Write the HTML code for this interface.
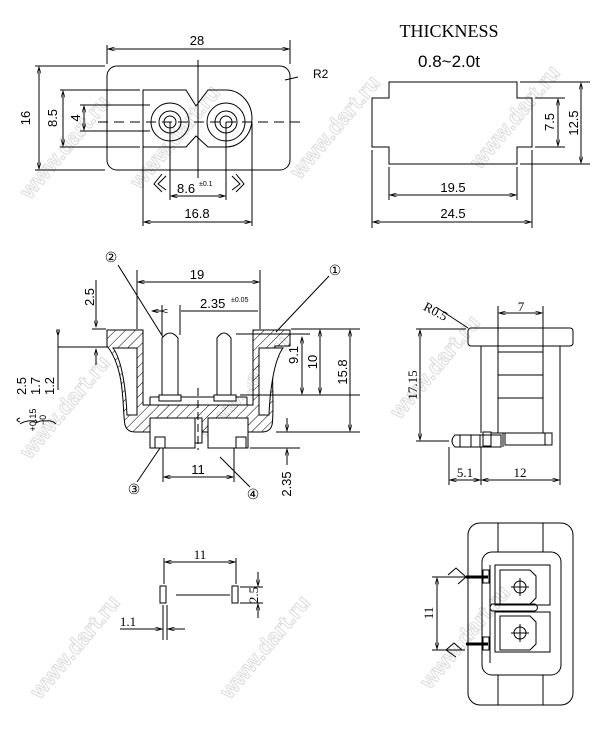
<!DOCTYPE html>
<html><head><meta charset="utf-8"><style>
html,body{margin:0;padding:0;background:#fff;}
svg{display:block}
text{font-family:"Liberation Sans",sans-serif;fill:#000}
.s{font-family:"Liberation Serif",serif}
.wm{font-family:"Liberation Sans",sans-serif;font-size:22px;font-weight:bold;fill:none;stroke:#dcdcdc;stroke-width:1}
</style></head><body>
<svg width="606" height="729" viewBox="0 0 606 729" xmlns="http://www.w3.org/2000/svg">
<defs>
<marker id="a" viewBox="0 0 10 6" refX="10" refY="3" markerWidth="8" markerHeight="4" orient="auto-start-reverse"><path d="M0,0 L10,3 L0,6" fill="none" stroke="#000" stroke-width="1"/></marker>
<pattern id="h" patternUnits="userSpaceOnUse" width="7" height="7" patternTransform="rotate(45)"><line x1="0" y1="0" x2="0" y2="7" stroke="#000" stroke-width="1"/></pattern>
</defs>
<rect width="606" height="729" fill="#fff"/>
<g>
<text class="wm" transform="translate(30,200) rotate(-50)">www.dart.ru</text>
<text class="wm" transform="translate(140,190) rotate(-50)">www.dart.ru</text>
<text class="wm" transform="translate(300,180) rotate(-50)">www.dart.ru</text>
<text class="wm" transform="translate(480,170) rotate(-50)">www.dart.ru</text>
<text class="wm" transform="translate(30,460) rotate(-50)">www.dart.ru</text>
<text class="wm" transform="translate(210,440) rotate(-50)">www.dart.ru</text>
<text class="wm" transform="translate(400,420) rotate(-50)">www.dart.ru</text>
<text class="wm" transform="translate(40,700) rotate(-50)">www.dart.ru</text>
<text class="wm" transform="translate(230,700) rotate(-50)">www.dart.ru</text>
<text class="wm" transform="translate(430,690) rotate(-50)">www.dart.ru</text>
</g>
<g fill="none" stroke="#000" stroke-width="1">
<!-- TOP LEFT -->
<rect x="107" y="66" width="183" height="104" rx="10"/>
<path d="M143,90 H186 L196,106 L208,90 H226 A26,28.5 0 0 1 226,147 H208 L196,136 L186,147 H143 Z"/>
<circle cx="170" cy="122" r="19"/><circle cx="170" cy="122" r="11"/><circle cx="170" cy="122" r="6"/>
<circle cx="226" cy="122" r="19"/><circle cx="226" cy="122" r="11"/><circle cx="226" cy="122" r="6"/>
<path d="M98,122 H300" stroke-dasharray="10,6"/>
<path d="M198,60 V178"/>
<path d="M107,45 V64 M290,40 V64"/>
<path d="M108,49 H289" marker-start="url(#a)" marker-end="url(#a)"/>
<path d="M35,66 H105 M35,170 H105"/>
<path d="M39,67 V169" marker-start="url(#a)" marker-end="url(#a)"/>
<path d="M60,90 H140 M60,147 H140"/>
<path d="M63,91 V146" marker-start="url(#a)" marker-end="url(#a)"/>
<path d="M80,105 H150 M80,131 H150"/>
<path d="M84,106 V130" marker-start="url(#a)" marker-end="url(#a)"/>
<path d="M170,122 V200 M226,122 V200 M143,147 V226 M252,122 V226"/>
<path d="M171,196 H225" marker-start="url(#a)" marker-end="url(#a)"/>
<path d="M144,222 H251" marker-start="url(#a)" marker-end="url(#a)"/>
<path d="M162,174 L154,184 L162,192 M166,176 L158,184 L166,190"/>
<path d="M236,174 L244,184 L236,192 M232,176 L240,184 L232,190"/>
<path d="M285,80 L298,77"/>
<!-- TOP RIGHT -->
<path d="M389,82 H517 V98 H532 V147 H517 V164 H389 V147 H372 V98 H389 Z"/>
<path d="M535,98 H565 M535,147 H565 M520,82 H590 M520,164 H590"/>
<path d="M558,99 V146" marker-start="url(#a)" marker-end="url(#a)"/>
<path d="M581,83 V163" marker-start="url(#a)" marker-end="url(#a)"/>
<path d="M389,167 V200 M517,167 V200 M372,150 V228 M532,150 V228"/>
<path d="M390,195 H516" marker-start="url(#a)" marker-end="url(#a)"/>
<path d="M373,222 H531" marker-start="url(#a)" marker-end="url(#a)"/>
<!-- MIDDLE LEFT section -->
<path d="M107,330 H143 V405 H253 V330 H290 V346 H275 C270,370 275,410 272,425 Q270,432 262,432 H135 Q127,432 125,425 C122,410 126,370 107,346 Z" fill="url(#h)"/>
<path d="M113,348 C122,360 126,390 127,415 H137 V348 Z M283,348 C274,360 270,390 269,415 H259 V348 Z" fill="#fff"/>
<path d="M150,345 H247 V397 H150 Z" fill="#fff" stroke="none"/>
<path d="M143,345 V405 M253,345 V405"/>
<path d="M150,397 H247 M150,397 V405 M247,397 V405"/>
<path d="M162,395 V338 Q170,328 178,338 V395 Z M217,395 V338 Q224,328 231,338 V395 Z" fill="#fff"/>
<rect x="159" y="395" width="22" height="6" fill="#fff"/><rect x="214" y="395" width="22" height="6" fill="#fff"/>
<rect x="150" y="418" width="45" height="30" fill="#fff"/><rect x="208" y="418" width="40" height="30" fill="#fff"/>
<rect x="195" y="418" width="7" height="25" fill="#fff"/>
<rect x="155" y="437" width="10" height="11" fill="#fff"/><rect x="236" y="437" width="10" height="11" fill="#fff"/>
<path d="M198,388 V450" stroke-dasharray="8,4"/>
<path d="M137,270 V329 M260,270 V329"/>
<path d="M138,282 H259" marker-start="url(#a)" marker-end="url(#a)"/>
<path d="M162,305 V335 M180,305 V335"/>
<path d="M152,311 H161 M181,311 H258" marker-start="url(#a)"/>
<path d="M163,311 H161" marker-end="url(#a)"/>
<path d="M92,329 H106 M291,329 H360 M58,347 H108 M236,334 H310 M240,395 H360 M276,432 H360 M250,448 H300"/>
<path d="M96,280 V327" marker-end="url(#a)"/><path d="M96,365 V349" marker-end="url(#a)"/>
<path d="M58,330 V390"/>
<path d="M58,336 V329" marker-start="url(#a)"/>
<path d="M302,337 V394" marker-start="url(#a)" marker-end="url(#a)"/>
<path d="M320,330 V394" marker-start="url(#a)" marker-end="url(#a)"/>
<path d="M350,330 V431" marker-start="url(#a)" marker-end="url(#a)"/>
<path d="M287,418 V431" marker-end="url(#a)"/><path d="M287,465 V449" marker-end="url(#a)"/>
<path d="M163,448 V482 M234,448 V482"/>
<path d="M164,477 H233" marker-start="url(#a)" marker-end="url(#a)"/>
<path d="M118,265 L163,337 M329,276 L276,332 M137,482 L160,448 M250,487 L220,457"/>
<path d="M20,418 Q14,420 20,422 M20,424 Q26,420 34,421 Q38,420 36,423 Q40,420 46,421 Q52,420 56,424"/>
<!-- MIDDLE RIGHT -->
<rect x="468" y="328" width="105" height="18" rx="3"/>
<path d="M481,346 V433 M560,346 V433 M498,306 V352 M543,306 V352 M498,352 H543 V433 H498 Z M498,375 H543 M498,398 H543"/>
<path d="M499,313 H542" marker-start="url(#a)" marker-end="url(#a)"/>
<path d="M436,307 L468,328"/>
<path d="M416,329 H466 M416,441 H449"/>
<path d="M420,330 V440" marker-start="url(#a)" marker-end="url(#a)"/>
<path d="M455,435 H501 V447 H455 Q449,441 455,435 Z M460,435 V447 M471,435 V447 M480,435 V447"/>
<path d="M483,432 H491 V446 H483 Z M491,433 H503 V438 M503,433 V447"/>
<path d="M505,433 H552 V445 H505 Z M545,433 V445"/>
<path d="M449,447 V485 M481,447 V485 M560,433 V485"/>
<path d="M450,480 H480" marker-start="url(#a)" marker-end="url(#a)"/>
<path d="M482,480 H559" marker-start="url(#a)" marker-end="url(#a)"/>
<!-- BOTTOM RIGHT -->
<rect x="468" y="523" width="105" height="182" rx="12"/>
<path d="M498,523 V552 M543,523 V552 M498,523 H543 M498,675 V705 M543,675 V705"/>
<rect x="482" y="552" width="79" height="123" rx="10"/>
<path d="M490,565 V663"/>
<rect x="495" y="565" width="55" height="40"/><rect x="495" y="612" width="55" height="40"/>
<path d="M500,570 H530 L536,576 V598 L530,604 H500 Z M500,616 H530 L536,622 V644 L530,650 H500 Z"/>
<circle cx="520" cy="587" r="6"/><circle cx="520" cy="633" r="6"/>
<path d="M511,587 H529 M520,578 V596 M511,633 H529 M520,624 V642"/>
<rect x="483" y="570" width="6" height="13"/><rect x="483" y="637" width="6" height="13"/>
<path d="M492,604 Q488,608 492,611 H535 Q540,608 535,604 Z"/>
<path d="M448,575 L456,568 L466,577 L458,584 M462,650 L454,643 L446,650 L456,657"/>
<path d="M432,577 H465 M432,650 H465"/>
<path d="M437,578 V649" marker-start="url(#a)" marker-end="url(#a)"/>
<!-- BOTTOM LEFT -->
<path d="M164,558 V584 M236,558 V584"/>
<path d="M165,562 H235" marker-start="url(#a)" marker-end="url(#a)"/>
<rect x="160" y="586" width="6" height="17"/><rect x="232" y="586" width="6" height="17"/>
<path d="M176,595 H230 M163,605 V640 M167,605 V640 M240,587 H263 M240,603 H263"/>
<path d="M120,629 H162" marker-end="url(#a)"/><path d="M185,629 H168" marker-end="url(#a)"/>
<path d="M258,572 V586" marker-end="url(#a)"/><path d="M258,618 V604" marker-end="url(#a)"/>
</g>
<path d="M466,577 H488 M466,644 H488" stroke="#000" stroke-width="3"/>
<!-- TEXT -->
<text x="197" y="45" font-size="13" text-anchor="middle">28</text>
<text x="313" y="78" font-size="12">R2</text>
<text transform="translate(30,118) rotate(-90)" font-size="13" text-anchor="middle">16</text>
<text transform="translate(57,118) rotate(-90)" font-size="13" text-anchor="middle">8.5</text>
<text transform="translate(80,118) rotate(-90)" font-size="13" text-anchor="middle">4</text>
<text x="177" y="193" font-size="13">8.6</text><text x="199" y="186" font-size="7">±0.1</text>
<text x="197" y="218" font-size="13" text-anchor="middle">16.8</text>
<text x="449" y="37" font-size="18" class="s" text-anchor="middle">THICKNESS</text>
<text x="449" y="67" font-size="17" text-anchor="middle">0.8~2.0t</text>
<text transform="translate(554,122) rotate(-90)" font-size="13" text-anchor="middle">7.5</text>
<text transform="translate(578,123) rotate(-90)" font-size="13" text-anchor="middle">12.5</text>
<text x="453" y="192" font-size="13" text-anchor="middle">19.5</text>
<text x="453" y="218" font-size="13" text-anchor="middle">24.5</text>
<text x="197" y="279" font-size="13" text-anchor="middle">19</text>
<text x="200" y="308" font-size="13">2.35</text><text x="231" y="302" font-size="7">±0.05</text>
<text x="111" y="262" font-size="14" class="s" text-anchor="middle">②</text>
<text x="335" y="275" font-size="14" class="s" text-anchor="middle">①</text>
<text x="134" y="494" font-size="14" class="s" text-anchor="middle">③</text>
<text x="253" y="499" font-size="14" class="s" text-anchor="middle">④</text>
<text transform="translate(94,297) rotate(-90)" font-size="13" text-anchor="middle">2.5</text>
<text transform="translate(26,386) rotate(-90)" font-size="13" text-anchor="middle">2.5</text>
<text transform="translate(40,386) rotate(-90)" font-size="13" text-anchor="middle">1.7</text>
<text transform="translate(54,386) rotate(-90)" font-size="13" text-anchor="middle">1.2</text>
<text transform="translate(36,420) rotate(-90)" font-size="9" text-anchor="middle">+0.15</text>
<text transform="translate(46,420) rotate(-90)" font-size="9" text-anchor="middle">−0</text>
<text transform="translate(298,355) rotate(-90)" font-size="13" text-anchor="middle">9.1</text>
<text transform="translate(317,362) rotate(-90)" font-size="13" text-anchor="middle">10</text>
<text transform="translate(347,372) rotate(-90)" font-size="13" text-anchor="middle">15.8</text>
<text transform="translate(291,484) rotate(-90)" font-size="13" text-anchor="middle">2.35</text>
<text x="198" y="474" font-size="13" text-anchor="middle">11</text>
<text x="423" y="318" font-size="13" class="s" transform="rotate(28 440 313)">R0.5</text>
<text x="521" y="311" font-size="13" class="s" text-anchor="middle">7</text>
<text transform="translate(417,385) rotate(-90)" font-size="13" class="s" text-anchor="middle">17.15</text>
<text x="465" y="477" font-size="13" class="s" text-anchor="middle">5.1</text>
<text x="520" y="477" font-size="13" class="s" text-anchor="middle">12</text>
<text transform="translate(433,613) rotate(-90)" font-size="13" class="s" text-anchor="middle">11</text>
<text x="200" y="559" font-size="13" class="s" text-anchor="middle">11</text>
<text transform="translate(258,595) rotate(-90)" font-size="13" class="s" text-anchor="middle">2.5</text>
<text x="128" y="626" font-size="13" class="s" text-anchor="middle">1.1</text>
</svg>
</body></html>
